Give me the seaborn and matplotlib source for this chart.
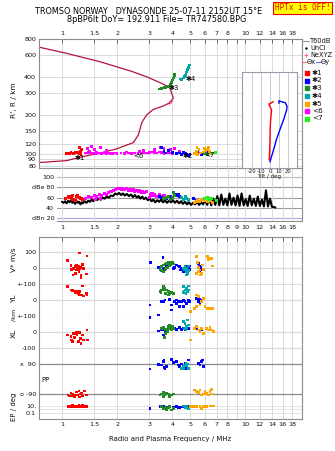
import numpy as np
import pandas as pd
import matplotlib
matplotlib.use("Agg")
import matplotlib.pyplot as plt
from matplotlib.lines import Line2D
from matplotlib.ticker import FixedLocator, NullLocator
import seaborn as sns

# ------------------------------------------------------------------ data
FREQ_TICKS = [1, 1.5, 2, 3, 4, 5, 6, 7, 8, 9, 10, 12, 14, 16, 18]
TOP_FREQ_LABELS = ["1", "1.5", "2", "3", "4", "5", "6", "7", "8", "", "10", "12", "14", "16", "18"]
MID_FREQ_LABELS = ["1", "1.5", "2", "3", "4", "5", "6", "7", "8", "9", "10", "12", "14", "16", "18"]
R_TICKS = [80, 90, 100, 120, 150, 200, 300, 400, 600, 800]
DB_TICKS = [100, 80, 60, 40, 20]
DB_LABELS = ["100", "dBe 80", "60", "40", "dBn 20"]

MODE_COLORS = {"1": "#ff0000", "2": "#0000ff", "3": "#228b22", "4": "#00a8a8",
               "5": "#ffa500", "6": "#ff00ff", "7": "#22ee22"}
MODE_LABELS = ["✱1", "✱2", "✱3", "✱4", "✱5", "<6", "<7"]

# model traces (dark red)
upper_f = [0.75, 1.06, 1.61, 2.4, 2.91, 3.56, 3.8]
upper_r = [690, 617, 530, 445, 402, 354, 335]
profile_f = [0.75, 1.06, 1.36, 1.61, 1.99, 2.45, 2.61, 2.72, 2.78, 2.9, 3.15, 3.57, 3.85, 4.05, 3.97, 3.89]
profile_r = [85, 88, 96, 101, 109, 122, 140, 173, 184, 202, 223, 237, 250, 273, 299, 326]
nexyz_f = [3.85, 3.95]
nexyz_r = [250, 262]

# R' echo traces per mode
R_TRACE = {
    "1": ([1.06, 1.08, 1.1, 1.12, 1.14, 1.16, 1.18, 1.2, 1.22, 1.24, 1.26, 1.28, 1.25, 1.27],
          [100, 101, 100, 102, 101, 100, 103, 101, 102, 100, 104, 108, 112, 98]),
    "6": ([1.35, 1.4, 1.45, 1.5, 1.55, 1.6, 1.65, 1.7, 1.75, 1.8, 1.85, 1.9, 1.95, 2.0, 2.1, 2.2, 2.3,
           2.4, 2.5, 2.6, 2.7, 2.8, 2.9, 3.0, 3.1, 3.2, 3.3, 3.4, 3.5, 3.6, 3.7, 3.8, 3.9, 4.0, 4.2,
           1.38, 1.45, 1.5, 1.62, 1.75, 2.8, 3.2, 3.45, 3.6, 3.9, 4.1, 4.4, 1.42, 1.55, 2.25, 2.65, 3.05],
          [101, 102, 100, 101, 100, 101, 100, 101, 100, 101, 100, 100, 101, 100, 101, 100, 101,
           100, 101, 100, 101, 102, 101, 102, 103, 102, 101, 103, 102, 100, 101, 102, 101, 100, 101,
           110, 113, 108, 111, 106, 106, 108, 112, 110, 108, 109, 104, 104, 103, 103, 104, 103]),
    "2": ([3.5, 3.6, 3.7, 3.8, 4.0, 4.2, 4.4, 4.5, 4.6, 4.7, 4.8, 4.9, 5.0, 5.4, 5.5, 5.6, 5.8, 6.0, 6.2],
          [112, 104, 101, 106, 102, 100, 101, 99, 102, 100, 98, 97, 99, 100, 104, 101, 99, 100, 102]),
    "3": ([3.4, 3.5, 3.6, 3.7, 3.8, 3.85, 3.9, 3.95, 4.0, 4.05, 4.1, 4.13, 6.0, 6.1, 6.25],
          [323, 326, 330, 333, 338, 341, 352, 365, 380, 395, 410, 424, 100, 101, 99]),
    "4": ([4.43, 4.5, 4.6, 4.65, 4.7, 4.75, 4.8, 4.85, 4.9, 4.95],
          [387, 385, 395, 405, 412, 425, 440, 458, 478, 500]),
    "5": ([5.3, 5.4, 5.5, 5.6, 5.7, 5.9, 6.0, 6.1, 6.3, 6.4, 6.5, 5.45, 6.2],
          [100, 104, 98, 108, 101, 103, 110, 106, 112, 104, 100, 112, 108]),
    "7": ([6.6, 6.9], [101, 102]),
}

# tilt inset
tilt_x_deg = [-0.8, 0.0, 0.3, 1.1, 1.9, 0.0, -1.1, 1.9, 3.7]
tilt_x_r = [89, 121, 163, 196, 221, 235, 246, 252, 257]
tilt_y_deg = [0, 4, 7, 11, 15, 18.5, 19, 17, 13, 10, 10]
tilt_y_r = [86, 107, 128, 154, 184, 221, 235, 252, 256, 261, 249]

# amplitude panel: T60dB noise trace
noise_f = [1.00, 1.02, 1.04, 1.06, 1.08, 1.10, 1.12, 1.14, 1.16, 1.18, 1.20, 1.22, 1.24, 1.26, 1.28,
           1.30, 1.33, 1.36, 1.39, 1.42, 1.45, 1.48, 1.51, 1.55, 1.59, 1.63, 1.67, 1.71, 1.75, 1.80,
           1.85, 1.90, 1.95, 2.00, 2.05, 2.10, 2.15, 2.20, 2.26, 2.32, 2.38, 2.44, 2.50, 2.56, 2.62,
           2.68, 2.74, 2.80, 2.87, 2.94, 3.01, 3.08, 3.15, 3.23, 3.31, 3.39, 3.47, 3.56, 3.65, 3.74,
           3.83, 3.93, 4.03, 4.13, 4.24, 4.35, 4.46, 4.57, 4.69, 4.81, 4.93, 5.06, 5.19, 5.32, 5.46,
           5.60, 5.74, 5.89, 6.04, 6.20, 6.36, 6.52, 6.69, 6.86, 7.04, 7.22, 7.40, 7.59, 7.79, 7.99,
           8.20, 8.41, 8.63, 8.85, 9.08, 9.31, 9.55, 9.80, 10.05, 10.31, 10.58, 10.85, 11.13, 11.42,
           11.71, 12.01, 12.32, 12.64, 12.97, 13.30, 13.64, 14.00, 14.3, 14.6]
noise_db = [52, 50, 53, 49, 54, 51, 55, 50, 53, 48, 54, 50, 52, 47, 51,
            49, 53, 50, 54, 52, 56, 53, 57, 55, 58, 56, 60, 58, 62, 60,
            64, 63, 68, 66, 69, 65, 68, 64, 67, 63, 66, 61, 65, 60, 63,
            58, 62, 57, 60, 55, 58, 53, 56, 51, 55, 52, 56, 51, 55, 50,
            54, 51, 55, 50, 54, 49, 53, 48, 52, 47, 51, 46, 50, 47, 52,
            46, 51, 47, 56, 46, 60, 45, 58, 46, 63, 45, 66, 46, 58, 45,
            68, 46, 60, 45, 64, 44, 68, 45, 57, 44, 64, 45, 58, 44,
            62, 44, 56, 43, 74, 43, 58, 42, 42, 41]

DB_TRACE = {
    "1": ([1.05, 1.08, 1.1, 1.12, 1.14, 1.14, 1.15, 1.18, 1.2, 1.22, 1.25, 1.27, 1.3],
          [58, 62, 60, 63, 57, 64, 57, 55, 62, 64, 60, 58, 56]),
    "6": ([1.35, 1.4, 1.45, 1.5, 1.55, 1.6, 1.65, 1.7, 1.75, 1.8, 1.85, 1.9, 1.95, 2.0, 2.05, 2.1,
           2.15, 2.2, 2.25, 2.3, 2.35, 2.4, 2.45, 2.5, 2.55, 2.6, 2.65, 2.7, 2.75, 2.8, 2.9, 3.0,
           3.05, 3.1, 3.15, 3.2, 3.3, 3.4, 3.5, 3.6, 3.7, 1.52, 1.62],
          [58, 62, 60, 64, 62, 66, 64, 68, 66, 70, 72, 74, 76, 78, 77, 76,
           78, 75, 77, 74, 76, 73, 75, 72, 74, 71, 73, 70, 72, 69, 71, 60,
           65, 67, 64, 66, 63, 65, 62, 64, 60, 56, 58]),
    "2": ([3.4, 3.5, 3.7, 3.9, 4.0, 4.2, 4.3, 4.4, 4.5, 5.2, 5.4],
          [62, 60, 58, 63, 61, 65, 66, 63, 60, 58, 55]),
    "3": ([3.6, 3.7, 3.8, 3.9, 4.0, 4.05, 4.1],
          [58, 60, 62, 57, 60, 70, 64]),
    "4": ([4.5, 4.6, 4.7, 4.8, 4.9], [60, 56, 62, 58, 55]),
    "5": ([5.3, 5.4, 5.5, 5.6, 5.8, 6.0, 6.2, 6.4, 6.6], [50, 53, 55, 52, 57, 54, 52, 55, 50]),
    "7": ([6.0, 6.2, 6.3, 6.5, 7.0], [58, 60, 57, 59, 55]),
}

# lower panels
V_STAR = {
    "1": ([1.07, 1.12, 1.13, 1.16, 1.15, 1.19, 1.2, 1.21, 1.23, 1.25, 1.24, 1.27, 1.27, 1.3, 1.31,
           1.25, 1.37, 1.36, 1.2, 1.22, 1.18, 1.26],
          [46, 15, -8, -2, -44, -33, 15, 0, 8, -2, -20, -44, -60, 20, -2, 94, 75, -38, -12, -5, 10, 5]),
    "2": ([3.04, 3.56, 3.57, 3.65, 3.73, 4.05, 4.13, 4.22, 4.31, 4.40, 4.44, 4.49, 4.59, 4.69,
           4.79, 4.89, 4.95, 4.99, 5.54, 5.61, 5.70, 5.78, 5.85, 5.66, 5.43, 3.37],
          [33, 67, -2, -12, 12, -2, 4, 19, 12, 8, -12, -2, -23, 8, 12, 4, -8, 12, 29, 8, 4, -8,
           19, -23, -33, 2]),
    "3": ([3.51, 3.57, 3.65, 3.73, 3.80, 3.88, 3.96, 3.69, 3.76, 3.85, 3.91, 3.57, 3.51, 4.01,
           4.05, 3.43],
          [8, 19, 25, 29, 33, 29, 33, -2, 4, 12, 19, -23, -17, 37, 25, -8]),
    "4": ([4.59, 4.69, 4.75, 4.79, 4.83, 4.89, 4.79, 4.69, 4.89, 4.63],
          [-2, -12, -23, -2, -33, -17, -44, 8, 12, -8]),
    "5": ([5.43, 5.47, 5.54, 5.54, 5.66, 5.78, 5.85, 6.29, 6.42, 6.56, 6.64, 6.21, 5.43, 5.70, 5.90],
          [73, 33, 4, -23, -12, -33, 19, 54, 60, 60, 12, 73, -33, -44, -8]),
}
Y_L = {
    "1": ([1.07, 1.12, 1.14, 1.15, 1.2, 1.23, 1.25, 1.28, 1.31, 1.29, 1.36, 1.37, 1.18, 1.24, 1.17, 1.21],
          [83, 62, 56, 58, 52, 42, 52, 31, 25, 90, 42, 31, 46, 36, 56, 48]),
    "2": ([3.02, 3.51, 3.57, 3.65, 3.88, 3.96, 4.13, 4.22, 4.31, 4.40, 4.49, 4.59, 4.69, 4.79, 4.89,
           4.99, 4.40, 4.59, 5.43, 5.54, 5.66, 5.78, 5.61, 3.96, 4.22, 3.37],
          [-31, -10, -10, 0, 4, -62, -10, 0, -6, -10, -10, -4, -10, -21, -4, -10, -42, -42, 10, -10,
           -21, -4, 4, -31, -21, -94]),
    "3": ([3.43, 3.51, 3.57, 3.65, 3.73, 3.80, 3.88, 3.96, 3.57, 3.69, 3.80, 3.47, 4.05],
          [52, 62, 67, 73, 62, 52, 42, 46, 83, 42, 31, 46, 42]),
    "4": ([4.59, 4.63, 4.69, 4.79, 4.83, 4.89, 4.89, 4.59, 4.75],
          [83, 52, 62, 73, 52, 62, 88, 46, 42]),
    "5": ([5.43, 5.54, 5.66, 5.31, 5.43, 5.78, 5.90, 6.21, 6.42, 6.64, 6.03, 5.03],
          [31, 21, -31, -52, -42, -10, 10, -52, -52, -52, -42, -73]),
}
X_L = {
    "1": ([1.07, 1.12, 1.13, 1.16, 1.17, 1.2, 1.21, 1.23, 1.25, 1.26, 1.27, 1.3, 1.31, 1.37, 1.38,
           1.14, 1.23, 1.19],
          [-19, -29, -50, -8, -35, -2, -19, -2, -2, -40, -71, -19, -50, 12, -50, -60, -60, -10]),
    "2": ([3.02, 3.51, 3.57, 3.65, 3.73, 3.96, 4.13, 4.22, 4.40, 4.49, 4.59, 4.69, 4.79, 4.89,
           5.54, 5.66, 5.78, 5.90, 5.43, 3.57, 3.37],
          [89, 17, 12, 2, 8, 17, 23, 17, 29, 17, 23, 17, 29, 23, 12, 2, 12, -8, 23, -19, 6]),
    "3": ([3.51, 3.57, 3.65, 3.73, 3.80, 3.85, 3.88, 3.91, 3.96, 4.01, 4.05, 3.61, 3.69, 3.76],
          [23, 29, 12, 17, 33, 23, 44, 29, 12, 38, 23, -33, -8, 2]),
    "4": ([4.59, 4.69, 4.75, 4.79, 4.89, 4.83, 4.63, 4.75],
          [65, 54, 38, 29, 44, 75, 23, 12]),
    "5": ([5.03, 5.31, 5.43, 5.54, 5.66, 5.78, 6.16, 6.42, 6.56, 6.70, 5.90, 6.29],
          [-50, 23, 33, 12, 2, 23, 23, 29, 12, 2, -8, 12]),
}
P_P = {
    "1": ([1.08, 1.1, 1.12, 1.15, 1.17, 1.2, 1.22, 1.24, 1.26, 1.28, 1.3, 1.33, 1.36, 1.14, 1.19, 1.25],
          [-96, -102, -84, -90, -108, -78, -96, -72, -90, -84, -102, -72, -96, -102, -96, -108]),
    "2": ([3.02, 3.51, 3.57, 3.65, 3.73, 3.96, 4.05, 4.22, 4.31, 4.40, 4.49, 4.59, 4.69, 4.79, 4.89,
           5.54, 5.66, 5.78, 5.85, 5.90, 3.37, 3.6, 3.62],
          [60, 84, 104, 64, 74, 118, 98, 104, 84, 74, 90, 78, 94, 64, 114, 94, 84, 104, 114, 74,
           88, 110, 70]),
    "3": ([3.43, 3.51, 3.57, 3.65, 3.73, 3.80, 3.88, 3.96, 4.05, 3.85, 3.57],
          [-96, -90, -82, -96, -86, -90, -102, -96, -90, -106, -106]),
    "4": ([4.49, 4.59, 4.69, 4.79, 4.89, 4.83, 4.63, 4.75],
          [64, 74, 84, 78, 64, 90, 60, 94]),
    "5": ([5.31, 5.43, 5.54, 5.66, 5.78, 5.90, 6.03, 6.42, 6.56, 6.64, 6.29, 6.16],
          [-66, -76, -82, -66, -96, -90, -76, -76, -62, -90, -96, -86]),
}
E_P = {
    "1": ([1.08, 1.1, 1.12, 1.15, 1.18, 1.2, 1.22, 1.25, 1.27, 1.3, 1.33, 1.36, 1.14, 1.24, 1.3],
          [6, 8, 5, 6, 7, 5, 6, 8, 5, 6, 7, 6, 12, 12, 12]),
    "2": ([3.02, 3.43, 3.57, 3.73, 3.88, 4.05, 4.22, 4.40, 4.59, 4.89, 4.31, 4.49, 3.65],
          [2.2, 6.3, 6.3, 4.2, 6.3, 4.2, 6.3, 4.2, 6.3, 6.3, 3.3, 5, 5]),
    "3": ([3.51, 3.57, 3.65, 3.73, 3.88, 3.96, 4.05, 3.80, 3.69],
          [6.3, 2.2, 3.3, 1.1, 6.3, 0.72, 2.2, 4.2, 2]),
    "4": ([4.59, 4.69, 4.79, 4.89, 4.75], [10, 3.3, 6.3, 2.2, 4.2]),
    "5": ([5.03, 5.20, 5.43, 5.66, 5.78, 6.16, 6.42, 6.70, 5.90, 6.56],
          [6.3, 6.3, 6.3, 6.3, 2.2, 6.3, 10, 10, 6.3, 10]),
}

# ------------------------------------------------------------------ figure
sns.set_style("white")
plt.rcParams["font.family"] = ["DejaVu Sans"]
W, H = 335, 451
fig = plt.figure(figsize=(W / 100, H / 100), dpi=100)
fig.patch.set_facecolor("white")

def fx(p):
    return p / W

def fy(p):
    return 1 - p / H

def px_axes(l, t, r, b):
    return fig.add_axes([l / W, 1 - b / H, (r - l) / W, (b - t) / H])

FRAME = "#8c8c8c"
GRID = "#dadada"
TRACE = "#b3143c"
TICK_FS = 4.6
TXT = "#111111"
MS = 4

def freq_axis(ax, lo=0.75, hi=20.4):
    ax.set_xscale("log")
    ax.set_xlim(lo, hi)
    ax.xaxis.set_major_locator(FixedLocator(FREQ_TICKS))
    ax.xaxis.set_minor_locator(NullLocator())
    ax.grid(True, axis="x", color=GRID, lw=0.7, zorder=0)
    ax.set_axisbelow(True)
    for s in ax.spines.values():
        s.set_color(FRAME)
        s.set_linewidth(0.8)
    ax.tick_params(axis="both", labelsize=TICK_FS, colors=TXT, length=0)

def scatter_modes(ax, band, s=MS):
    rows = []
    for mode, (fs, vs) in band.items():
        rows += [(mode, f, v) for f, v in zip(fs, vs)]
    df = pd.DataFrame(rows, columns=["mode", "freq", "val"])
    sns.scatterplot(data=df, x="freq", y="val", hue="mode", palette=MODE_COLORS,
                    marker="s", s=s, linewidth=0, legend=False, ax=ax, zorder=3)
    ax.set_xlabel("")
    ax.set_ylabel("")

# ---------------- top panel: virtual height
ax_top = px_axes(39, 39, 302, 168)
sns.lineplot(x=upper_f, y=upper_r, sort=False, estimator=None, color=TRACE, lw=0.9, ax=ax_top)
sns.lineplot(x=profile_f, y=profile_r, sort=False, estimator=None, color=TRACE, lw=0.9, ax=ax_top)
scatter_modes(ax_top, R_TRACE)
sns.scatterplot(x=nexyz_f, y=nexyz_r, marker="+", color="#ff6699", s=8, linewidth=0.6, ax=ax_top, legend=False)
freq_axis(ax_top)
ax_top.set_yscale("log")
ax_top.set_ylim(77, 800)
ax_top.yaxis.set_major_locator(FixedLocator(R_TICKS))
ax_top.yaxis.set_minor_locator(NullLocator())
ax_top.set_yticklabels([str(t) for t in R_TICKS])
ax_top.grid(True, axis="y", color=GRID, lw=0.7)
ax_top.xaxis.set_ticks_position("top")
ax_top.xaxis.set_label_position("top")
ax_top.set_xticklabels(TOP_FREQ_LABELS)
ax_top.tick_params(axis="x", direction="in", length=3, width=0.6, color="#555", pad=2)
ax_top.tick_params(axis="y", pad=2)
for f, r, lab in [(1.25, 93, "✱1"), (2.6, 95, "<6"), (4.85, 95, "✱2"), (6.35, 97, "<7"),
                  (4.08, 330, "✱3"), (5.02, 390, "✱4")]:
    ax_top.text(f, r, lab, fontsize=5, ha="center", va="center", color="black", zorder=5)

# ---------------- amplitude panel
ax_db = px_axes(57, 168, 302, 221)
ax_db.patch.set_alpha(0)
sns.lineplot(x=noise_f, y=noise_db, sort=False, estimator=None, color="black", lw=1.5, ax=ax_db)
scatter_modes(ax_db, DB_TRACE, s=5)
freq_axis(ax_db, lo=0.939)
ax_db.set_ylim(15, 117)
ax_db.set_yticks(DB_TICKS)
ax_db.set_yticklabels(DB_LABELS)
for v, c in [(100, "#bbbbbb"), (80, "#999999"), (60, "#999999"), (40, "#999999"), (20, "#aaaae6")]:
    ax_db.axhline(v, color=c, lw=0.8, zorder=0)
ax_db.spines["left"].set_visible(False)
ax_db.spines["top"].set_visible(False)
ax_db.set_xticklabels(MID_FREQ_LABELS)
ax_db.tick_params(axis="x", direction="in", length=3, width=0.6, color="#555", pad=3)
ax_db.tick_params(axis="y", pad=2)

# tilt inset (on top of everything)
ax_in = px_axes(242, 72, 297, 168)
ax_in.set_zorder(10)
sns.lineplot(x=tilt_x_deg, y=tilt_x_r, sort=False, estimator=None, color="#ff0000", lw=1.0, ax=ax_in)
sns.lineplot(x=tilt_y_deg, y=tilt_y_r, sort=False, estimator=None, color="#0000ff", lw=1.0, ax=ax_in)
ax_in.set_yscale("log")
ax_in.set_ylim(77, 440)
ax_in.set_xlim(-31, 30)
ax_in.set_xticks([-20, -10, 0, 10, 20])
ax_in.set_xticklabels(["-20", "-10", "0", "10", "20"])
ax_in.yaxis.set_major_locator(NullLocator())
ax_in.yaxis.set_minor_locator(NullLocator())
ax_in.grid(True, axis="x", color="#c9c9d9", lw=0.7)
ax_in.tick_params(axis="x", labelsize=3.8, length=0, pad=1, colors=TXT)
ax_in.set_xlabel("Tilt / deg", fontsize=4, labelpad=0, color=TXT)
ax_in.set_ylabel("")
for s in ax_in.spines.values():
    s.set_color("#9a9aaa")
    s.set_linewidth(0.8)

# ---------------- lower bands
ax_v = px_axes(39, 237, 302, 284.5)
ax_yl = px_axes(39, 284.5, 302, 316)
ax_xl = px_axes(39, 316, 302, 356)
ax_pp = px_axes(39, 356, 302, 400)
ax_ep = px_axes(39, 400, 302, 419)

bands = [
    (ax_v, V_STAR, (-103, 194), [100, 0, -100], ["100", "0", "+-100"], [100, 0, -100]),
    (ax_yl, Y_L, (-100, 97), [0], ["0"], [0, -100]),
    (ax_xl, X_L, (-150, 100), [100, 0, -100], ["+-100", "0", "-100"], [0, -100]),
    (ax_pp, P_P, (-126, 138), [90, -90], ["x  90", "o -90"], []),
    (ax_ep, E_P, (0.0019, 518), [10, 0.1], ["10.", "0.1"], []),
]
for i, (ax, band, ylim, yt, ytl, hl) in enumerate(bands):
    scatter_modes(ax, band)
    freq_axis(ax)
    if ax is ax_ep:
        ax.set_yscale("log")
        ax.yaxis.set_minor_locator(NullLocator())
        for v in [10, 1, 0.1]:
            ax.axhline(v, color="#e4e4e4", lw=0.7, zorder=0)
    ax.set_ylim(*ylim)
    ax.yaxis.set_major_locator(FixedLocator(yt))
    ax.set_yticklabels(ytl)
    ax.tick_params(axis="y", pad=2)
    for v in hl:
        ax.axhline(v, color=GRID, lw=0.8, zorder=0)
    if ax is ax_pp:
        for v in [90, -90]:
            ax.axhline(v, color="#8a8a8a", lw=0.9, zorder=1)
    if i > 0:
        ax.spines["top"].set_visible(False)
    if i < len(bands) - 1:
        ax.spines["bottom"].set_visible(False)
    if ax is ax_v:
        ax.xaxis.set_ticks_position("top")
        ax.tick_params(axis="x", direction="in", length=3, width=0.6, color="#555", labeltop=False)
    elif ax is ax_ep:
        ax.set_xticklabels(TOP_FREQ_LABELS)
        ax.tick_params(axis="x", direction="in", length=3, width=0.6, color="#555", pad=2)
    else:
        ax.tick_params(axis="x", labelbottom=False, length=0)

# ---------------- texts
fig.text(fx(149), fy(11), "TROMSO NORWAY   DYNASONDE 25-07-11 2152UT 15°E",
         ha="center", va="center", fontsize=5.9, color="black")
fig.text(fx(157), fy(20), "8pBP6It DoY= 192.911 File= TR747580.BPG",
         ha="center", va="center", fontsize=5.9, color="black")
fig.text(fx(302.5), fy(8), "HPTx is OFF!", ha="center", va="center", fontsize=5.6,
         color="#ee0000", family="DejaVu Sans Mono",
         bbox=dict(boxstyle="square,pad=0.25", facecolor="#ffff00", edgecolor="#ee0000", lw=0.8))

fig.text(fx(14), fy(100), "R', R / km", rotation=90, ha="center", va="center", fontsize=5.3, color=TXT)
fig.text(fx(14), fy(260), "V* m/s", rotation=90, ha="center", va="center", fontsize=5.3, color=TXT)
fig.text(fx(14), fy(299), "YL", rotation=90, ha="center", va="center", fontsize=5.3, color=TXT)
fig.text(fx(14), fy(315), "/km", rotation=90, ha="center", va="center", fontsize=4.6, color=TXT)
fig.text(fx(14), fy(333), "XL", rotation=90, ha="center", va="center", fontsize=5.3, color=TXT)
fig.text(fx(46), fy(380), "PP", ha="center", va="center", fontsize=5.0, color=TXT)
fig.text(fx(14), fy(407), "EP / deg", rotation=90, ha="center", va="center", fontsize=5.0, color=TXT)
fig.text(fx(170), fy(439), "Radio and Plasma Frequency / MHz", ha="center", va="center",
         fontsize=5.0, color=TXT)

# legend (right margin)
LEG_FS = 4.8
fig.add_artist(Line2D([fx(302), fx(309)], [fy(41), fy(41)], color="#999999", lw=0.8))
fig.text(fx(310), fy(41), "T60dB", fontsize=LEG_FS, va="center", color=TXT)
fig.add_artist(Line2D([fx(306)], [fy(48)], color="black", marker=".", markersize=1.5, lw=0))
fig.text(fx(310), fy(48), "UnCl", fontsize=LEG_FS, va="center", color=TXT)
fig.add_artist(Line2D([fx(306)], [fy(55)], color="#ff6699", marker="+", markersize=3, lw=0, mew=0.7))
fig.text(fx(310), fy(55), "NeXYZ", fontsize=LEG_FS, va="center", color=TXT)
fig.add_artist(Line2D([fx(302), fx(307)], [fy(62), fy(62)], color="#ff6666", lw=0.8))
fig.text(fx(307), fy(62), "Θx", fontsize=LEG_FS, va="center", color=TXT)
fig.add_artist(Line2D([fx(315.5), fx(320.5)], [fy(62), fy(62)], color="#6666ff", lw=0.8))
fig.text(fx(321), fy(62), "Θy", fontsize=LEG_FS, va="center", color=TXT)
leg_y = [73, 80.5, 88, 96, 103.5, 111, 118.5]
for (mode, col), lab, yy in zip(MODE_COLORS.items(), MODE_LABELS, leg_y):
    fig.add_artist(Line2D([fx(306.5)], [fy(yy)], color=col, marker="s", markersize=2.2, lw=0))
    fig.text(fx(312), fy(yy), lab, fontsize=LEG_FS + 0.4, va="center", color=TXT)

fig.savefig("out.png", dpi=100, facecolor="white")
